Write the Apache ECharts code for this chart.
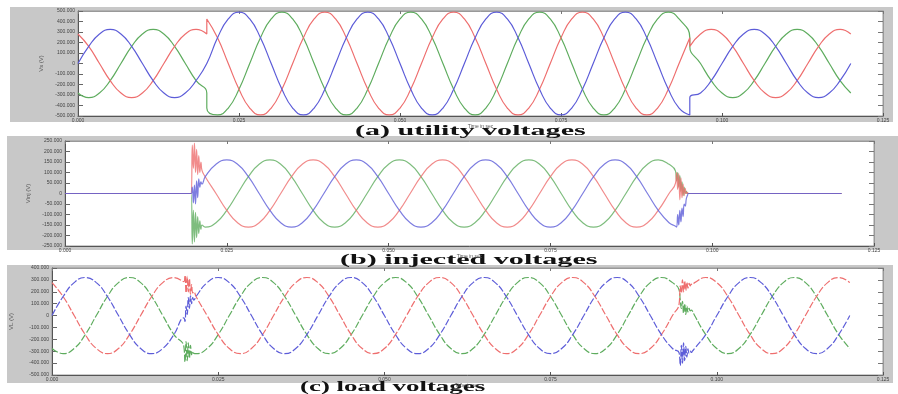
<!DOCTYPE html>
<html>
<head>
<meta charset="utf-8">
<script src="https://cdn.jsdelivr.net/npm/echarts@6/dist/echarts.min.js"></script>
<style>
  html, body { margin: 0; padding: 0; background: #fff; }
  #chart { width: 898px; height: 394px; }
</style>
</head>
<body>
<div id="chart"></div>
<script>
// time is counted in steps of 1/600 s (30 deg of the 50 Hz wave); axis runs to 75 steps = 0.125 s

// (a) utility voltages
const timeA = [0, 1, 2, 3, 4, 5, 6, 7, 8, 9, 10, 11, 12, 12, 13, 14, 15, 16, 17, 18, 19, 20, 21, 22, 23, 24, 25, 26, 27, 28, 29, 30, 31, 32, 33, 34, 35, 36, 37, 38, 39, 40, 41, 42, 43, 44, 45, 46, 47, 48, 49, 50, 51, 52, 53, 54, 55, 56, 57, 57, 58, 59, 60, 61, 62, 63, 64, 65, 66, 67, 68, 69, 70, 71, 72];
const blueA = [0, 163, 281, 325, 281, 163, 0, -163, -281, -325, -281, -163, 0, 0, 245, 424, 490, 424, 245, 0, -245, -424, -490, -424, -245, 0, 245, 424, 490, 424, 245, 0, -245, -424, -490, -424, -245, 0, 245, 424, 490, 424, 245, 0, -245, -424, -490, -424, -245, 0, 245, 424, 490, 424, 245, 0, -245, -424, -490, -325, -281, -163, 0, 163, 281, 325, 281, 163, 0, -163, -281, -325, -281, -163, 0];
const greenA = [-281, -325, -281, -163, 0, 163, 281, 325, 281, 163, 0, -163, -281, -424, -490, -424, -245, 0, 245, 424, 490, 424, 245, 0, -245, -424, -490, -424, -245, 0, 245, 424, 490, 424, 245, 0, -245, -424, -490, -424, -245, 0, 245, 424, 490, 424, 245, 0, -245, -424, -490, -424, -245, 0, 245, 424, 490, 424, 245, 163, 0, -163, -281, -325, -281, -163, 0, 163, 281, 325, 281, 163, 0, -163, -281];
const redA = [281, 163, 0, -163, -281, -325, -281, -163, 0, 163, 281, 325, 281, 424, 245, 0, -245, -424, -490, -424, -245, 0, 245, 424, 490, 424, 245, 0, -245, -424, -490, -424, -245, 0, 245, 424, 490, 424, 245, 0, -245, -424, -490, -424, -245, 0, 245, 424, 490, 424, 245, 0, -245, -424, -490, -424, -245, 0, 245, 163, 281, 325, 281, 163, 0, -163, -281, -325, -281, -163, 0, 163, 281, 325, 281];

// (b) injected voltages
const timeB = [0, 11.7, 11.8, 11.9, 12, 12.1, 12.2, 12.3, 12.4, 12.5, 12.6, 12.7, 13, 14, 15, 16, 17, 18, 19, 20, 21, 22, 23, 24, 25, 26, 27, 28, 29, 30, 31, 32, 33, 34, 35, 36, 37, 38, 39, 40, 41, 42, 43, 44, 45, 46, 47, 48, 49, 50, 51, 52, 53, 54, 55, 56, 56.6, 56.7, 56.8, 56.9, 57, 57.1, 57.2, 57.3, 57.4, 57.5, 57.6, 57.7, 57.8, 58, 72];
const blueB = [0, 0, 30, -45, 40, -50, 60, -20, 70, 30, 55, 45, 80, 139, 160, 139, 80, 0, -80, -139, -160, -139, -80, 0, 80, 139, 160, 139, 80, 0, -80, -139, -160, -139, -80, 0, 80, 139, 160, 139, 80, 0, -80, -139, -160, -139, -80, 0, 80, 139, 160, 139, 80, 0, -80, -139, -156, -160, -100, -150, -80, -135, -70, -110, -50, -60, -25, -10, 0, 0, 0];
const greenB = [0, 0, -240, -80, -230, -90, -210, -110, -190, -130, -170, -150, -160, -139, -80, 0, 80, 139, 160, 139, 80, 0, -80, -139, -160, -139, -80, 0, 80, 139, 160, 139, 80, 0, -80, -139, -160, -139, -80, 0, 80, 139, 160, 139, 80, 0, -80, -139, -160, -139, -80, 0, 80, 139, 160, 139, 107, 60, 100, 30, 85, 10, 55, -10, 30, 0, 10, 0, 0, 0, 0];
const redB = [0, 0, 230, 120, 240, 100, 210, 90, 180, 100, 150, 110, 80, 0, -80, -139, -160, -139, -80, 0, 80, 139, 160, 139, 80, 0, -80, -139, -160, -139, -80, 0, 80, 139, 160, 139, 80, 0, -80, -139, -160, -139, -80, 0, 80, 139, 160, 139, 80, 0, -80, -139, -160, -139, -80, 0, 49, 100, 20, 95, -30, 75, -20, 45, -10, 25, 0, 5, 0, 0, 0];

// (c) load voltages
const timeC = [0, 1, 2, 3, 4, 5, 6, 7, 8, 9, 10, 11, 11.9, 12, 12.1, 12.2, 12.3, 12.4, 12.5, 12.6, 12.7, 12.8, 13, 14, 15, 16, 17, 18, 19, 20, 21, 22, 23, 24, 25, 26, 27, 28, 29, 30, 31, 32, 33, 34, 35, 36, 37, 38, 39, 40, 41, 42, 43, 44, 45, 46, 47, 48, 49, 50, 51, 52, 53, 54, 55, 56, 56.6, 56.7, 56.8, 56.9, 57, 57.1, 57.2, 57.3, 57.4, 57.5, 57.6, 57.7, 57.8, 58, 59, 60, 61, 62, 63, 64, 65, 66, 67, 68, 69, 70, 71, 72];
const blueC = [0, 160, 277, 320, 277, 160, 0, -160, -277, -320, -277, -160, -20, -50, 80, 10, 150, 60, 165, 100, 150, 130, 160, 277, 320, 277, 160, 0, -160, -277, -320, -277, -160, 0, 160, 277, 320, 277, 160, 0, -160, -277, -320, -277, -160, 0, 160, 277, 320, 277, 160, 0, -160, -277, -320, -277, -160, 0, 160, 277, 320, 277, 160, 0, -160, -277, -313, -420, -250, -400, -230, -380, -260, -350, -280, -320, -300, -310, -300, -277, -160, 0, 160, 277, 320, 277, 160, 0, -160, -277, -320, -277, -160, 0];
const greenC = [-277, -320, -277, -160, 0, 160, 277, 320, 277, 160, 0, -160, -260, -390, -220, -380, -230, -360, -250, -330, -300, -318, -320, -277, -160, 0, 160, 277, 320, 277, 160, 0, -160, -277, -320, -277, -160, 0, 160, 277, 320, 277, 160, 0, -160, -277, -320, -277, -160, 0, 160, 277, 320, 277, 160, 0, -160, -277, -320, -277, -160, 0, 160, 277, 320, 277, 214, 130, 60, 120, 20, 100, 10, 80, 30, 60, 40, 45, 38, 0, -160, -277, -320, -277, -160, 0, 160, 277, 320, 277, 160, 0, -160, -277];
const redC = [277, 160, 0, -160, -277, -320, -277, -160, 0, 160, 277, 320, 285, 340, 190, 330, 200, 310, 180, 260, 190, 200, 160, 0, -160, -277, -320, -277, -160, 0, 160, 277, 320, 277, 160, 0, -160, -277, -320, -277, -160, 0, 160, 277, 320, 277, 160, 0, -160, -277, -320, -277, -160, 0, 160, 277, 320, 277, 160, 0, -160, -277, -320, -277, -160, 0, 99, 250, 190, 300, 200, 290, 210, 280, 230, 270, 250, 265, 260, 277, 320, 277, 160, 0, -160, -277, -320, -277, -160, 0, 160, 277, 320, 277];

const captions = ['(a) utility voltages', '(b) injected voltages', '(c) load voltages'];
const yNames = ['Vs (V)', 'Vinj (V)', 'VL (V)'];

const BLUE = '#5c5cd8', GREEN = '#5eac5e', RED = '#ee6e6e';

const chart = echarts.init(document.getElementById('chart'));

const grids = [
  { left: 78, top: 11, width: 805, height: 105 },
  { left: 65, top: 141, width: 809, height: 105 },
  { left: 48, top: 268, width: 835, height: 107 },
];
const yRanges = [[-500, 500, 100], [-250, 250, 50], [-500, 400, 100]];
const nameGaps = [33, 30, 38];

const xAxes = [], yAxes = [];
grids.forEach((g, i) => {
  xAxes.push({
    type: 'value', gridIndex: i, min: 0, max: 75, interval: 15, position: 'bottom',
    name: 'Time in sec', nameLocation: 'middle', nameGap: 7,
    nameTextStyle: { fontSize: 5, color: '#555' },
    axisLine: { onZero: false, lineStyle: { color: '#555' } },
    axisTick: { inside: true, length: 3, lineStyle: { color: '#555' } },
    axisLabel: { fontSize: 5, color: '#444', margin: 2, formatter: (v) => (v / 600).toFixed(3) },
    splitLine: { show: false },
  });
  xAxes.push({
    type: 'value', gridIndex: i, min: 0, max: 75, interval: 15, position: 'top',
    axisLine: { onZero: false, lineStyle: { color: '#999' } },
    axisTick: { inside: true, length: 3, lineStyle: { color: '#777' } },
    axisLabel: { show: false }, splitLine: { show: false },
  });
  const [lo, hi, step] = yRanges[i];
  yAxes.push({
    type: 'value', gridIndex: i, min: lo, max: hi, interval: step, position: 'left',
    name: yNames[i], nameLocation: 'middle', nameGap: nameGaps[i],
    nameTextStyle: { fontSize: 6, color: '#555' },
    axisLine: { show: true, onZero: false, lineStyle: { color: '#555' } },
    axisTick: { show: true, inside: true, length: 5, lineStyle: { color: '#666' } },
    axisLabel: { fontSize: 5, color: '#444', margin: 3, formatter: (v) => (v === 0 ? '0' : v.toFixed(3)) },
    splitLine: { show: false },
  });
  yAxes.push({
    type: 'value', gridIndex: i, min: lo, max: hi, interval: step, position: 'right',
    axisLine: { show: true, onZero: false, lineStyle: { color: '#999' } },
    axisTick: { show: true, inside: true, length: 5, lineStyle: { color: '#777' } },
    axisLabel: { show: false }, splitLine: { show: false },
  });
});

const zip = (t, v) => t.map((x, i) => [x, v[i]]);
const panels = [
  { t: timeA, b: blueA, g: greenA, r: redA, opacity: 1, dash: 'solid' },
  { t: timeB, b: blueB, g: greenB, r: redB, opacity: 0.8, dash: 'solid' },
  { t: timeC, b: blueC, g: greenC, r: redC, opacity: 1, dash: [7, 2] },
];
const series = [];
panels.forEach((p, i) => {
  [[p.g, GREEN], [p.r, RED], [p.b, BLUE]].forEach(([vals, color]) => {
    series.push({
      type: 'line', xAxisIndex: 2 * i, yAxisIndex: 2 * i,
      data: zip(p.t, vals), showSymbol: false, symbol: 'none',
      smooth: 0.5,
      lineStyle: { color, width: 1.2, opacity: p.opacity, type: p.dash },
    });
  });
});

const panelRects = [
  { x: 10, y: 7, width: 883, height: 115 },
  { x: 7, y: 136, width: 891, height: 114 },
  { x: 7, y: 265, width: 886, height: 118 },
];
const captionPos = [
  { x: 355, y: 131, sx: 2.15 },
  { x: 340, y: 260, sx: 2.15 },
  { x: 300, y: 387, sx: 1.92 },
];
const graphic = [];
panelRects.forEach((r) => {
  graphic.push({ type: 'rect', z: -10, silent: true, shape: r, style: { fill: '#c8c8c8' } });
});
captions.forEach((c, i) => {
  const p = captionPos[i];
  graphic.push({
    type: 'text', x: p.x, y: p.y, scaleX: p.sx, silent: true,
    style: {
      text: c, fill: '#111', font: 'bold 14px "Liberation Serif", "DejaVu Serif", serif',
      textAlign: 'left', textVerticalAlign: 'middle',
    },
  });
});

chart.setOption({
  animation: false,
  backgroundColor: '#fff',
  grid: grids.map((g) => ({ ...g, show: true, backgroundColor: '#fff', borderColor: '#999', borderWidth: 1 })),
  xAxis: xAxes,
  yAxis: yAxes,
  series,
  graphic,
});
</script>
</body>
</html>
